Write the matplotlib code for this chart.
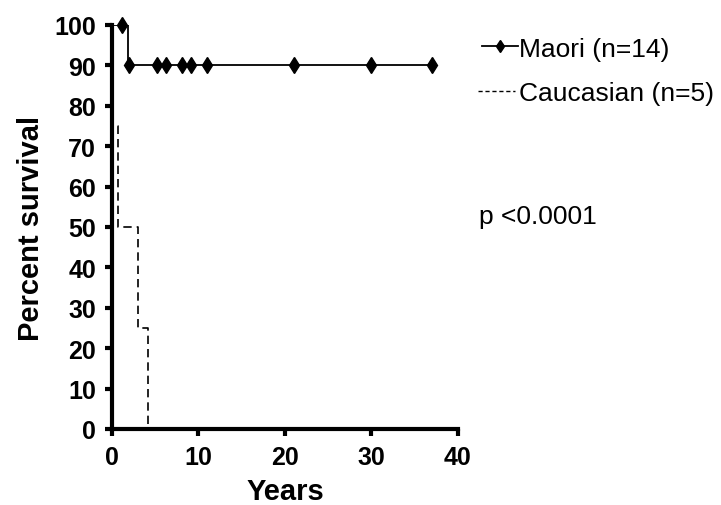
import matplotlib
matplotlib.use("Agg")
import matplotlib.pyplot as plt
from matplotlib.lines import Line2D

plt.rcParams['font.family'] = ['Liberation Sans', 'DejaVu Sans']

# Maori survival steps
maori_x = [0, 1.9, 1.9, 37]
maori_y = [100, 100, 90, 90]
maori_cens_x = [1.1, 2.0, 5.2, 6.2, 8.1, 9.1, 11.0, 21, 30, 37]
maori_cens_y = [100, 90, 90, 90, 90, 90, 90, 90, 90, 90]

# Caucasian survival steps
cauc_x = [0, 0.05, 0.05, 0.7, 0.7, 3.0, 3.0, 4.2, 4.2]
cauc_y = [100, 100, 75, 75, 50, 50, 25, 25, 0]

xticks = [0, 10, 20, 30, 40]
yticks = list(range(0, 101, 10))
legend_labels = ['Maori (n=14)', 'Caucasian (n=5)']
p_text = 'p <0.0001'

W, H = 721, 506
fig = plt.figure(figsize=(W / 100, H / 100), dpi=100)
ax = fig.add_axes([112 / W, 1 - 430 / H, (458 - 112) / W, (430 - 26) / H])

ax.plot(maori_x, maori_y, color='black', lw=1.3, zorder=3)
ax.plot(cauc_x, cauc_y, color='black', lw=1.2, linestyle=(0, (5, 3)), zorder=3)
ax.plot(maori_cens_x, maori_cens_y, linestyle='none', marker='d', ms=8.5,
        color='black', zorder=4, clip_on=False)

ax.set_xlim(0, 40)
ax.set_ylim(0, 100)
ax.set_xticks(xticks)
ax.set_yticks(yticks)
ax.spines['top'].set_visible(False)
ax.spines['right'].set_visible(False)
for s in ['left', 'bottom']:
    ax.spines[s].set_linewidth(3.0)
    ax.spines[s].set_capstyle('projecting')
ax.tick_params(width=3.0, length=5, direction='out', labelsize=18, pad=6.5)
for lab in ax.get_xticklabels() + ax.get_yticklabels():
    lab.set_fontweight('bold')
ax.set_xlabel('Years', fontsize=21, fontweight='bold', labelpad=6)
ax.set_ylabel('Percent survival', fontsize=21, fontweight='bold', labelpad=7)

def fx(px):
    return px / W

def fy(py):
    return 1 - py / H

# legend entry 1 (Maori)
fig.add_artist(Line2D([fx(482), fx(518)], [fy(47), fy(47)], color='black', lw=1.3))
fig.add_artist(Line2D([fx(500)], [fy(47)], color='black', marker='d', ms=6,
                      linestyle='none'))
fig.text(fx(519), fy(47), legend_labels[0], fontsize=19, va='center_baseline',
         ha='left')
# legend entry 2 (Caucasian)
fig.add_artist(Line2D([fx(478), fx(515)], [fy(92), fy(92)], color='black', lw=1.0,
                      linestyle=(0, (3, 2))))
fig.text(fx(519), fy(92), legend_labels[1], fontsize=19, va='center_baseline',
         ha='left')

fig.text(fx(479), fy(215), p_text, fontsize=19, va='center_baseline', ha='left')

fig.savefig('out.png', dpi=100)
